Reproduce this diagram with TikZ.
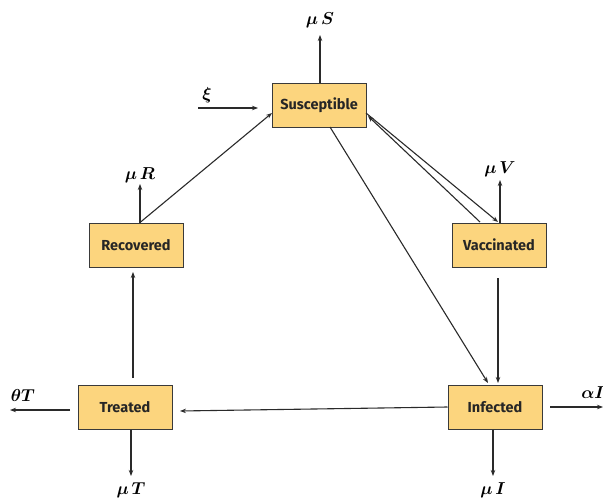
\documentclass[tikz,border=0pt]{standalone}
\usepackage{fontspec}
\usepackage{amsmath}
\usepackage{bm}
\setsansfont{Fira Sans}
\usetikzlibrary{arrows.meta}
\definecolor{boxfill}{HTML}{FCD57E}
\definecolor{boxline}{HTML}{3A3A3A}
\definecolor{lineclr}{HTML}{2A2A2A}
\tikzset{
  compbox/.style={draw=boxline, line width=1pt, fill=boxfill, minimum width=94pt, minimum height=44pt, inner sep=0pt, font=\sffamily\bfseries\fontsize{14.5}{16}\selectfont, text=black!85},
  flow/.style={draw=lineclr, line width=1.1pt, -{Stealth[length=6pt,width=4.5pt]}},
  lab/.style={font=\fontsize{16}{18}\selectfont, inner sep=0pt}
}
\begin{document}
\begin{tikzpicture}[x=1pt,y=-1pt]
\useasboundingbox (0,0) rectangle (603,498);
\node[compbox] (S) at (319,105) {Susceptible};
\node[compbox] (R) at (136,245) {Recovered};
\node[compbox] (V) at (499,245) {Vaccinated};
\node[compbox] (T) at (125,407) {Treated};
\node[compbox] (I) at (495,407) {Infected};

\coordinate (muS) at (320,35);
\coordinate (xi0) at (198,108);
\coordinate (muR) at (140,184);
\coordinate (muV) at (500,180);
\coordinate (thT) at (10,410);
\coordinate (muT) at (131,476);
\coordinate (alI) at (603,407);
\coordinate (muI) at (493,476);

\draw[flow] (S.north -| muS) -- (muS);
\node[lab] at (320,20) {$\bm{\mu}\,\bm{S}$};
\draw[flow] (xi0) -- (258,108);
\node[lab] at (207,95) {$\bm{\xi}$};

\draw[flow] (R.north -| muR) -- (272,113);
\draw[flow] (R.north -| muR) -- (muR);
\node[lab] at (140,175) {$\bm{\mu}\,\bm{R}$};

\draw[flow] (366,113) -- (498,222);
\draw[flow] (480,222) -- (368,116);
\draw[flow] (V.north -| muV) -- (muV);
\node[lab] at (500,169) {$\bm{\mu}\,\bm{V}$};

\draw[flow] (330,127) -- (488,383);
\draw[flow] (498,278) -- (498,383);
\draw[flow] (I.west) -- (180,411);
\draw[flow] (133,378) -- (133,272);

\draw[flow] (70,410) -- (thT);
\node[lab] at (23,395) {$\bm{\theta T}$};
\draw[flow] (T.south -| muT) -- (muT);
\node[lab] at (131,490) {$\bm{\mu}\,\bm{T}$};
\draw[flow] (550,407) -- (alI);
\node[lab] at (593,393) {$\bm{\alpha I}$};
\draw[flow] (I.south -| muI) -- (muI);
\node[lab] at (493,490) {$\bm{\mu}\,\bm{I}$};
\end{tikzpicture}
\end{document}
